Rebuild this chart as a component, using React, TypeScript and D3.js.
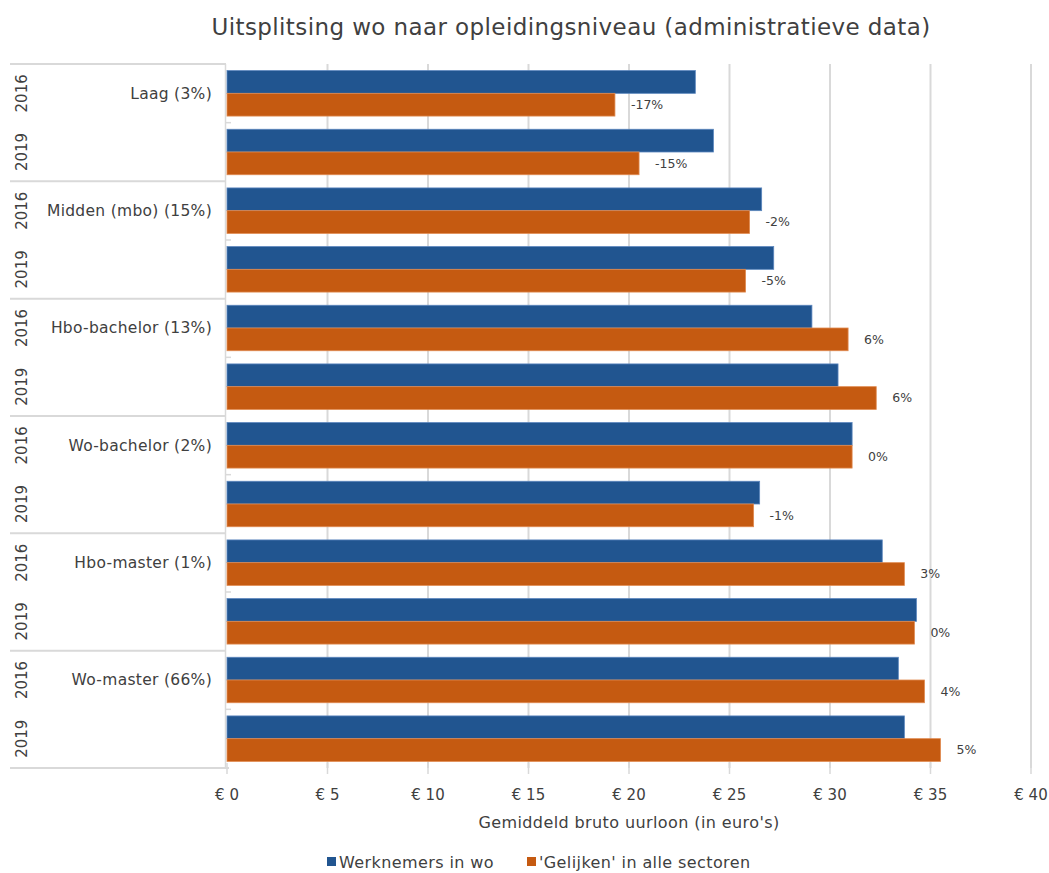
import React from "react";
import * as d3 from "d3";

const categories = ["Laag (3%)", "Midden (mbo) (15%)", "Hbo-bachelor (13%)", "Wo-bachelor (2%)", "Hbo-master (1%)", "Wo-master (66%)"];
const years = ["2016", "2019"];
const seriesNames = ["Werknemers in wo", "'Gelijken' in alle sectoren"];
const seriesColors = ["#215590", "#c55a11"];
// values per category, per year: [wo, alle sectoren]
const woValues = [
  [23.3, 24.2],
  [26.6, 27.2],
  [29.1, 30.4],
  [31.1, 26.5],
  [32.6, 34.3],
  [33.4, 33.7],
];
const allValues = [
  [19.3, 20.5],
  [26.0, 25.8],
  [30.9, 32.3],
  [31.1, 26.2],
  [33.7, 34.2],
  [34.7, 35.5],
];
const diffLabels = [
  ["-17%", "-15%"],
  ["-2%", "-5%"],
  ["6%", "6%"],
  ["0%", "-1%"],
  ["3%", "0%"],
  ["4%", "5%"],
];
const xTicks = [0, 5, 10, 15, 20, 25, 30, 35, 40];

const W = 1049;
const H = 873;
const FONT = "'DejaVu Sans', sans-serif";
const TXT = "#404040";
const GRID = "#d9d9d9";

export default function App() {
  const left = 227;
  const right = 1031;
  const top = 64;
  const bottom = 768;

  const x = d3.scaleLinear().domain([0, 40]).range([left, right]);
  const yCat = d3.scaleBand<string>().domain(categories).range([top, bottom]).padding(0);
  const yYear = d3.scaleBand<string>().domain(years).range([0, yCat.bandwidth()]).padding(0);
  const ySer = d3.scaleBand<string>().domain(["wo", "all"]).range([0, yYear.bandwidth()]).paddingInner(0).paddingOuter(0.29);

  return (
    <svg width={W} height={H} style={{ position: "absolute", left: 0, top: 0, background: "#fff" }} fontFamily={FONT}>
      <text x={571} y={35} textAnchor="middle" fontSize={23} letterSpacing={0.4} fill={TXT}>
        Uitsplitsing wo naar opleidingsniveau (administratieve data)
      </text>

      {/* gridlines */}
      {xTicks.slice(1).map((t) => (
        <line key={"g" + t} x1={x(t)} x2={x(t)} y1={top} y2={bottom} stroke={GRID} strokeWidth={2} />
      ))}
      {/* x ticks */}
      {xTicks.map((t) => (
        <line key={"t" + t} x1={x(t)} x2={x(t)} y1={bottom - 5} y2={bottom + 6} stroke={GRID} strokeWidth={1.5} />
      ))}
      {xTicks.map((t) => (
        <text key={"l" + t} x={x(t)} y={800} textAnchor="middle" fontSize={15} fill={TXT}>
          € {t}
        </text>
      ))}
      <text x={(left + right) / 2} y={828} textAnchor="middle" fontSize={16} letterSpacing={0.4} fill={TXT}>
        Gemiddeld bruto uurloon (in euro's)
      </text>

      {/* category axis */}
      <line x1={left - 1.5} x2={left - 1.5} y1={top} y2={bottom} stroke={GRID} strokeWidth={1.5} />
      {categories.map((c, i) => {
        const y0 = yCat(c)!;
        return (
          <g key={c}>
            <line x1={10} x2={left - 1} y1={y0} y2={y0} stroke={GRID} strokeWidth={2} />
            <line x1={left - 1} x2={left + 4} y1={y0 + yYear("2019")!} y2={y0 + yYear("2019")!} stroke={GRID} strokeWidth={1.5} />
            <text x={212} y={y0 + yYear.bandwidth() / 2} dy="0.35em" textAnchor="end" fontSize={15.5} letterSpacing={0.3} fill={TXT}>
              {c}
            </text>
            {years.map((yr) => {
              const cy = y0 + yYear(yr)! + yYear.bandwidth() / 2;
              return (
                <text key={yr} transform={`translate(22,${cy}) rotate(-90)`} textAnchor="middle" dy="0.35em" fontSize={15} fill={TXT}>
                  {yr}
                </text>
              );
            })}
            {years.map((yr, j) => {
              const ys = y0 + yYear(yr)!;
              const vals = [woValues[i][j], allValues[i][j]];
              return (
                <g key={"b" + yr}>
                  {["wo", "all"].map((s, k) => (
                    <rect
                      key={s}
                      x={x(0)}
                      y={ys + ySer(s)!}
                      width={x(vals[k]) - x(0)}
                      height={ySer.bandwidth()}
                      fill={seriesColors[k]}
                      stroke={k === 0 ? "#5b86bd" : "#e08a50"}
                      strokeWidth={0.8}
                    />
                  ))}
                  <text
                    x={x(vals[1]) + 16}
                    y={ys + ySer("all")! + ySer.bandwidth() / 2}
                    dy="0.35em"
                    fontSize={12.5}
                    fill={TXT}
                  >
                    {diffLabels[i][j]}
                  </text>
                </g>
              );
            })}
          </g>
        );
      })}
      <line x1={10} x2={left + 2} y1={bottom} y2={bottom} stroke={GRID} strokeWidth={2} />

      {/* legend */}
      {seriesNames.map((n, k) => {
        const lx = k === 0 ? 327 : 527;
        return (
          <g key={n}>
            <rect x={lx} y={857} width={9} height={9} fill={seriesColors[k]} />
            <text x={lx + 12} y={862} dy="0.35em" fontSize={16} letterSpacing={0.4} fill={TXT}>
              {n}
            </text>
          </g>
        );
      })}
    </svg>
  );
}
